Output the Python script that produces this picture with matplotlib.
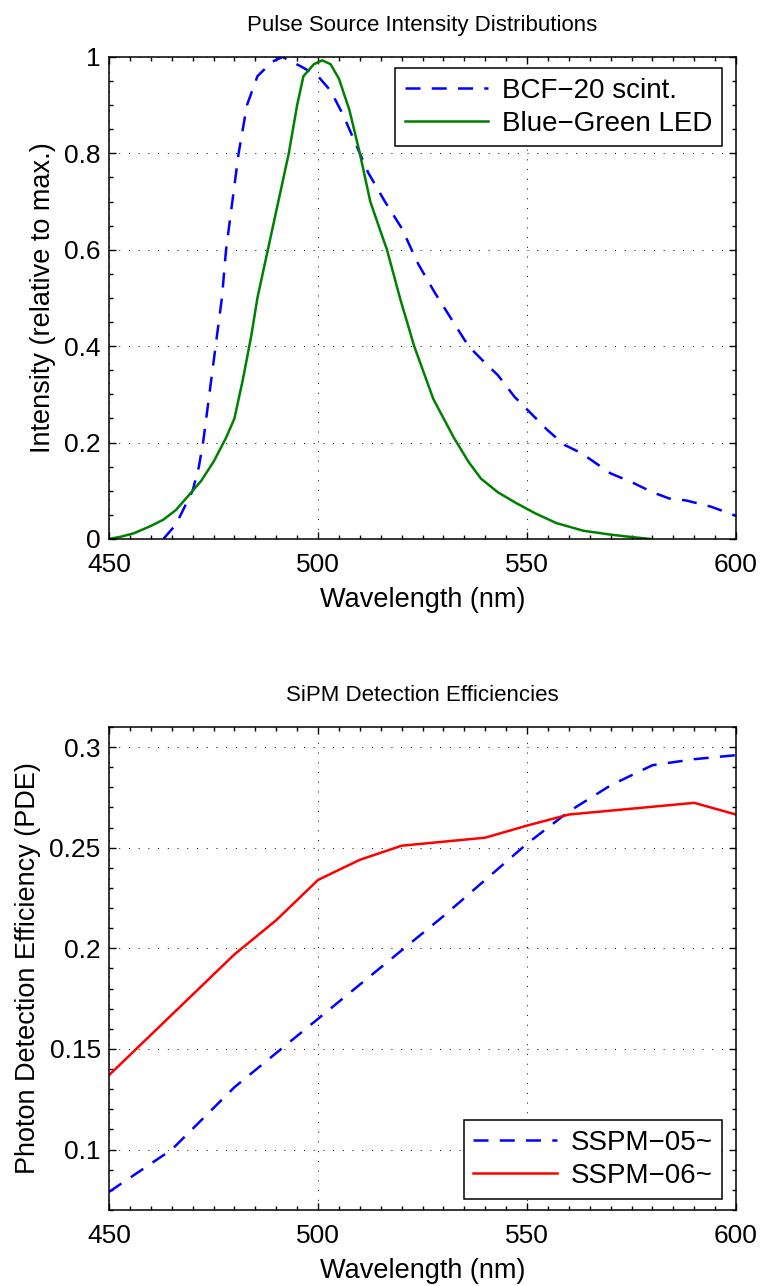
import matplotlib
matplotlib.use('Agg')
import matplotlib.pyplot as plt
from matplotlib.ticker import MultipleLocator, FormatStrFormatter

plt.rcParams['font.family'] = ['Liberation Sans', 'DejaVu Sans']

# --- top panel: source spectra (relative intensity) ---
bcf_wl = [463, 466, 468, 470, 471.5, 472.5, 474, 475.5, 477, 478, 479.5, 481, 483,
          485.5, 489, 491.5, 496, 500, 503, 506, 509, 512, 516, 520, 524, 528, 532,
          536, 540, 543, 547, 551, 555, 559, 563, 566, 570, 575, 580, 584, 588, 594, 600]
bcf_int = [0.0, 0.03, 0.065, 0.10, 0.15, 0.20, 0.30, 0.40, 0.50, 0.60, 0.70, 0.80, 0.90,
           0.96, 0.99, 1.00, 0.98, 0.96, 0.93, 0.88, 0.82, 0.76, 0.70, 0.645, 0.57, 0.51,
           0.455, 0.40, 0.365, 0.34, 0.295, 0.26, 0.225, 0.195, 0.178, 0.16, 0.136, 0.118,
           0.097, 0.084, 0.08, 0.067, 0.048]

led_wl = [450, 453, 456, 460, 463, 466, 469, 472, 475, 478, 480, 482, 484, 485.5, 488,
          490.5, 493, 495, 496.5, 499, 501, 503, 505, 507.5, 510, 512.5, 515, 516.5,
          519.6, 523, 527.6, 532.5, 536, 539, 543, 547.5, 552, 557, 563.5, 570, 575, 579.5]
led_int = [0.0, 0.005, 0.012, 0.027, 0.04, 0.06, 0.09, 0.12, 0.16, 0.21, 0.25, 0.33, 0.42,
           0.50, 0.60, 0.70, 0.80, 0.90, 0.96, 0.985, 0.993, 0.985, 0.955, 0.89, 0.80,
           0.70, 0.637, 0.60, 0.50, 0.40, 0.29, 0.21, 0.16, 0.125, 0.097, 0.074, 0.053,
           0.033, 0.017, 0.009, 0.004, 0.0]

# --- bottom panel: SiPM photon detection efficiency ---
sspm05_wl = [450, 465, 480, 490, 500, 510, 520, 530, 540, 550, 560, 570, 580, 590, 600]
sspm05_pde = [0.079, 0.100, 0.131, 0.148, 0.165, 0.182, 0.199, 0.216, 0.234, 0.252,
              0.268, 0.281, 0.291, 0.294, 0.296]

sspm06_wl = [450, 460, 470, 480, 490, 500, 510, 520, 540, 550, 560, 590, 600]
sspm06_pde = [0.137, 0.157, 0.177, 0.197, 0.214, 0.234, 0.244, 0.251, 0.255, 0.261,
              0.2665, 0.2723, 0.2665]

TICK_FS = 19
LABEL_FS = 19.5
TITLE_FS = 16
LEG_FS = 20
DASH = (0, (6, 4.5))


def style_axes(ax, xminor, yminor):
    ax.set_xlim(450, 600)
    ax.xaxis.set_major_locator(MultipleLocator(50))
    ax.xaxis.set_minor_locator(MultipleLocator(xminor))
    ax.yaxis.set_minor_locator(MultipleLocator(yminor))
    ax.tick_params(which='both', direction='in', top=True, right=True,
                   labelsize=TICK_FS, width=1.0)
    ax.tick_params(axis='x', pad=10)
    ax.tick_params(axis='y', pad=6)
    ax.tick_params(which='major', length=5)
    ax.tick_params(which='minor', length=3)
    ax.grid(True, which='major', color='black', linewidth=0.7, linestyle=(0, (1, 9)))
    for s in ax.spines.values():
        s.set_linewidth(1.1)
    ax.set_xlabel('Wavelength (nm)', fontsize=LABEL_FS, labelpad=7)


fig = plt.figure(figsize=(7.64, 12.86), dpi=100)

ax1 = fig.add_axes([0.1427, 0.5809, 0.8207, 0.3748])
ax1.plot(bcf_wl, bcf_int, color='#0000ff', lw=1.8, linestyle=DASH, label='BCF\u221220 scint.')
ax1.plot(led_wl, led_int, color='#008000', lw=1.8, label='Blue\u2212Green LED')
style_axes(ax1, 5, 0.05)
ax1.set_ylim(0, 1)
ax1.yaxis.set_major_locator(MultipleLocator(0.2))
ax1.yaxis.set_major_formatter(FormatStrFormatter('%g'))
ax1.set_ylabel('Intensity (relative to max.)', fontsize=LABEL_FS, labelpad=6)
ax1.set_title('Pulse Source Intensity Distributions', fontsize=TITLE_FS, pad=19)
leg = ax1.legend(loc='upper right', bbox_to_anchor=(0.978, 0.977), borderaxespad=0,
                 fontsize=LEG_FS, fancybox=False, framealpha=1, edgecolor='black',
                 handlelength=3, labelspacing=0.25, borderpad=0.35, handletextpad=0.5)
leg.get_frame().set_linewidth(1.1)

ax2 = fig.add_axes([0.1427, 0.0591, 0.8207, 0.3756])
ax2.plot(sspm05_wl, sspm05_pde, color='#0000ff', lw=1.8, linestyle=DASH, label='SSPM\u221205~')
ax2.plot(sspm06_wl, sspm06_pde, color='#ff0000', lw=1.8, label='SSPM\u221206~')
style_axes(ax2, 5, 0.01)
ax2.set_ylim(0.07, 0.31)
ax2.set_yticks([0.1, 0.15, 0.2, 0.25, 0.3])
ax2.yaxis.set_major_formatter(FormatStrFormatter('%g'))
ax2.set_ylabel('Photon Detection Efficiency (PDE)', fontsize=LABEL_FS, labelpad=6)
ax2.set_title('SiPM Detection Efficiencies', fontsize=TITLE_FS, pad=19)
leg2 = ax2.legend(loc='lower right', bbox_to_anchor=(0.978, 0.023), borderaxespad=0,
                  fontsize=LEG_FS, fancybox=False, framealpha=1, edgecolor='black',
                  handlelength=3, labelspacing=0.25, borderpad=0.35, handletextpad=0.5)
leg2.get_frame().set_linewidth(1.1)

fig.savefig('out.png', dpi=100)
